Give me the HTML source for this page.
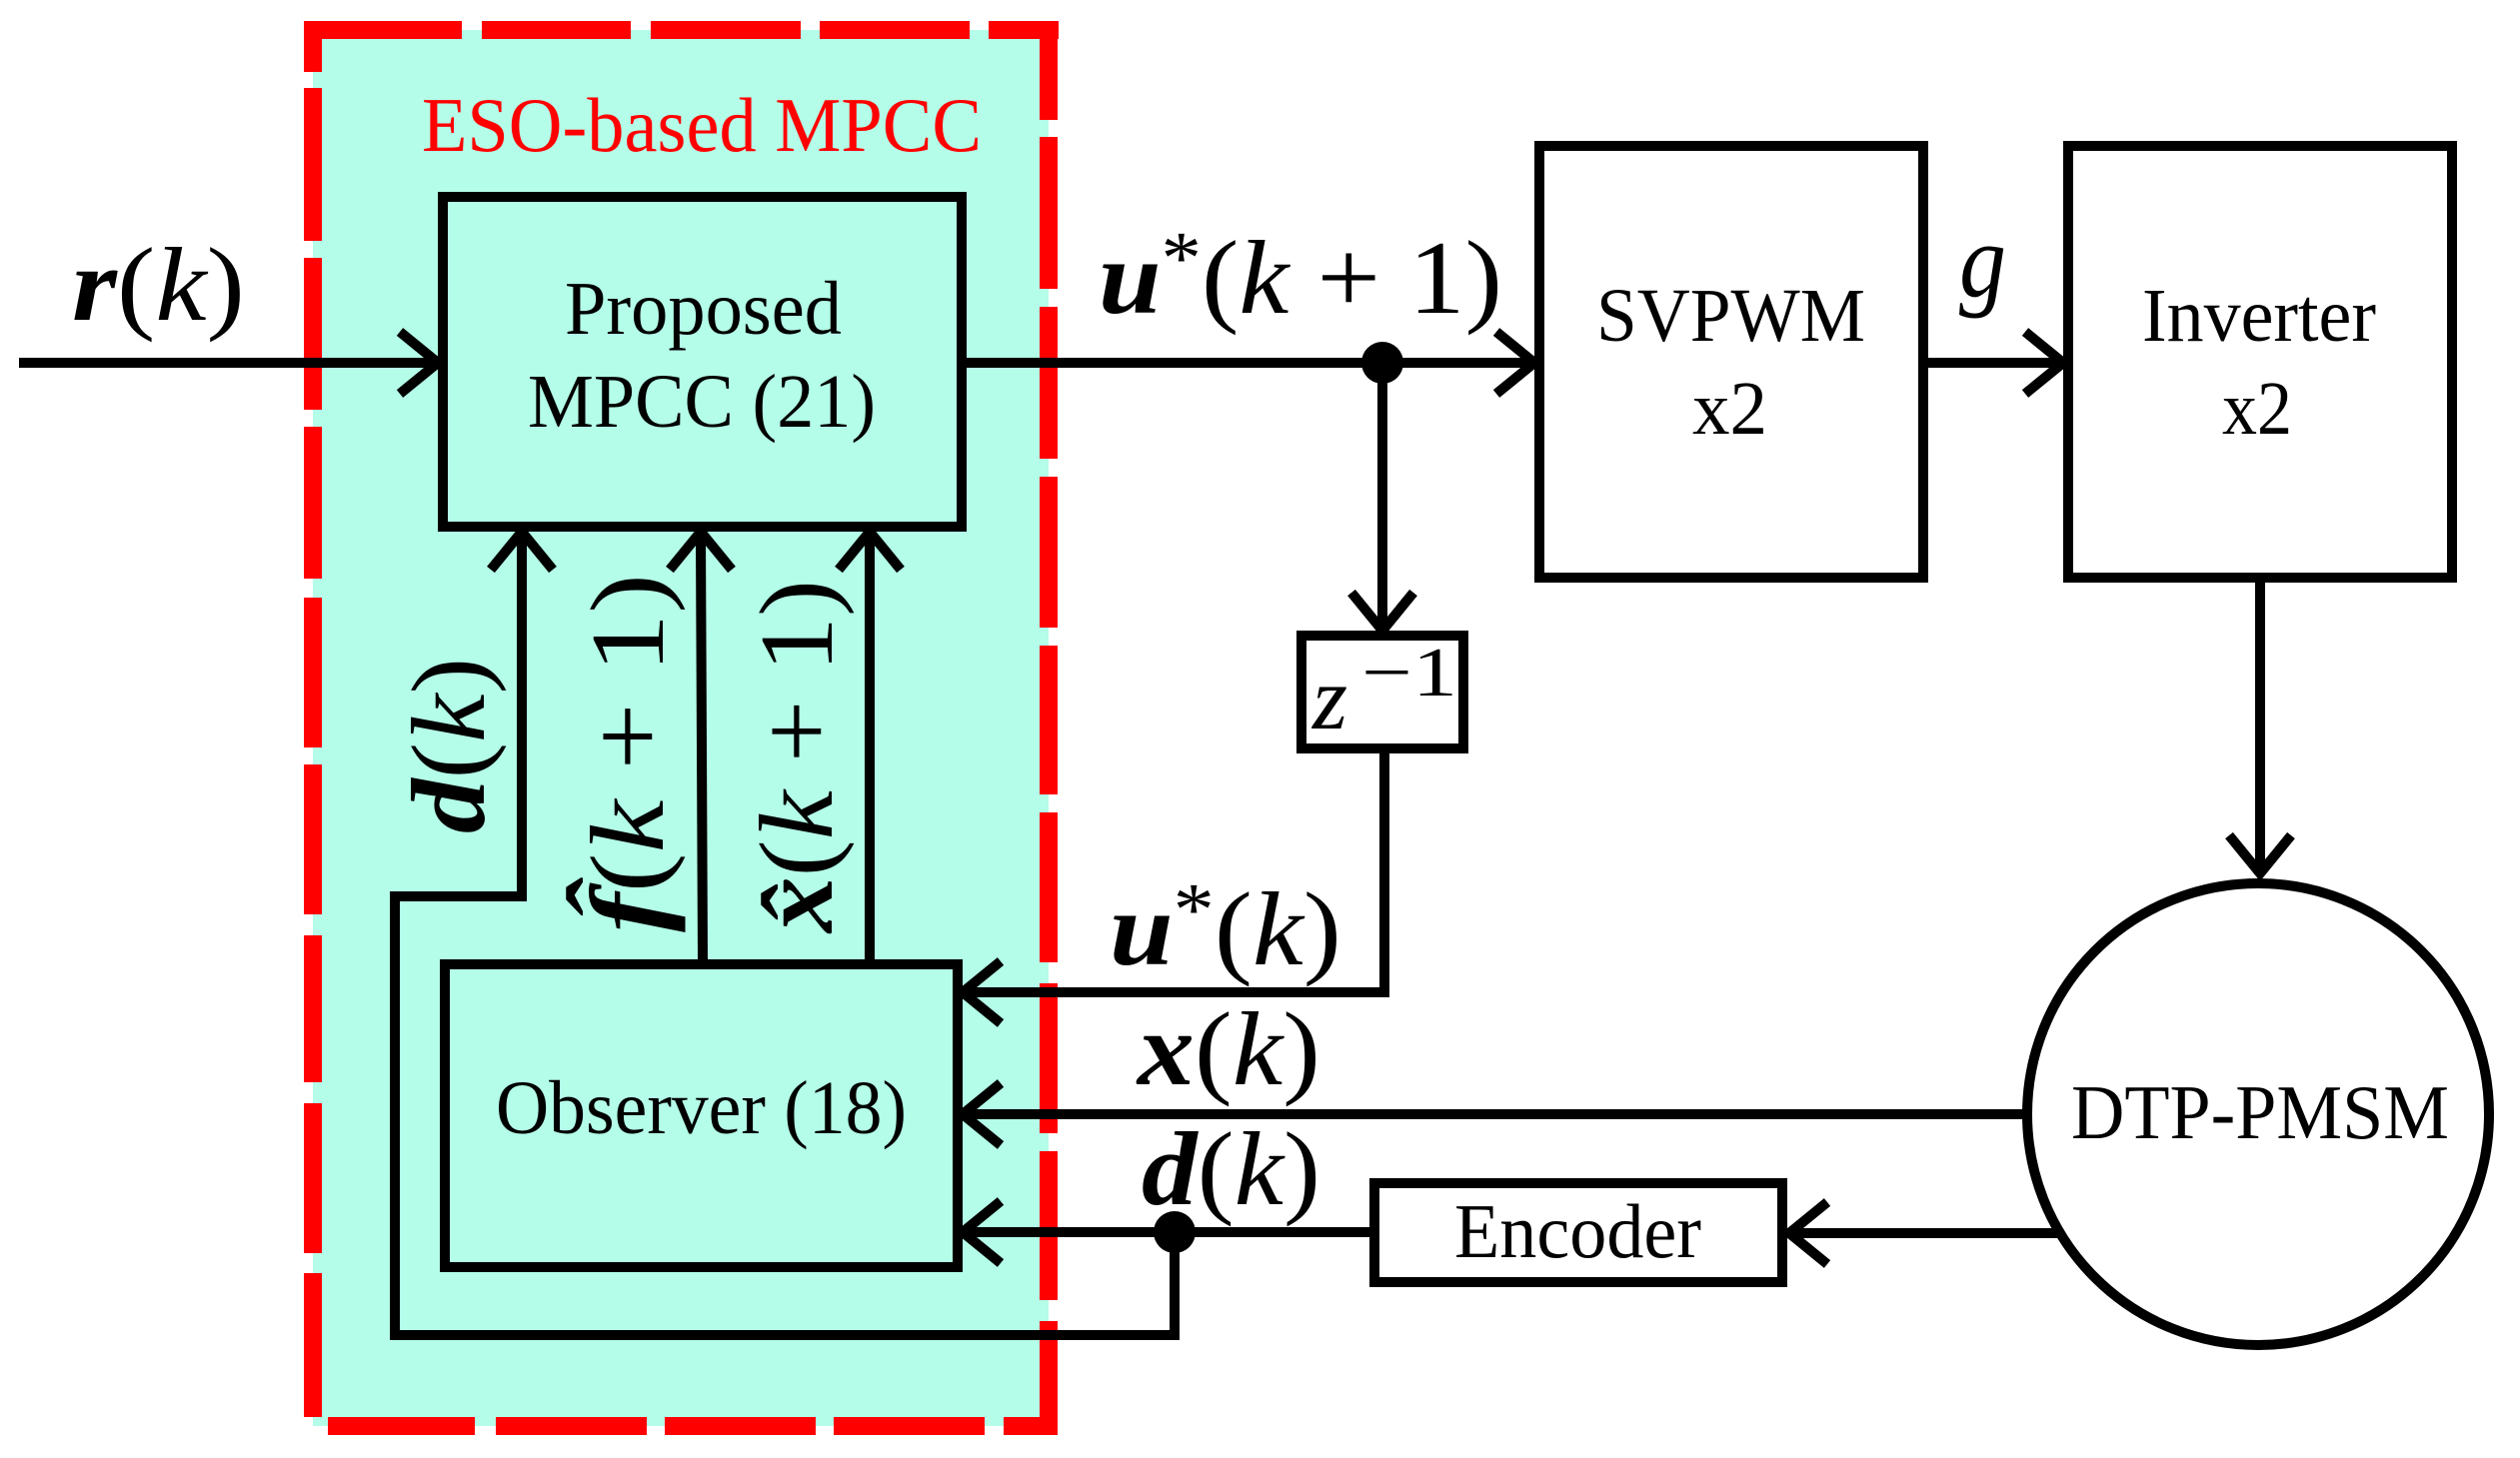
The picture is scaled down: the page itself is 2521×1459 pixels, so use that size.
<!DOCTYPE html>
<html><head><meta charset="utf-8"><style>
html,body{margin:0;padding:0;background:#fff;}
svg{display:block;}
text{font-family:"Liberation Serif",serif;fill:#000;}
</style></head><body>
<svg width="2521" height="1459" viewBox="0 0 2521 1459" xmlns="http://www.w3.org/2000/svg">
<rect x="0" y="0" width="2521" height="1459" fill="#fff"/>
<!-- ESO region fill -->
<rect x="313" y="30" width="736" height="1397" fill="#b4fde8"/>
<!-- red dashes -->
<g fill="#ff0000">
<rect x="304" y="21" width="158" height="18"/><rect x="482" y="21" width="149" height="18"/><rect x="651" y="21" width="150" height="18"/><rect x="820" y="21" width="150" height="18"/><rect x="989" y="21" width="70" height="18"/>
<rect x="304" y="21" width="18" height="51"/><rect x="304" y="88" width="18" height="153"/><rect x="304" y="258" width="18" height="152"/><rect x="304" y="427" width="18" height="152"/><rect x="304" y="598" width="18" height="150"/><rect x="304" y="765" width="18" height="150"/><rect x="304" y="936" width="18" height="147"/><rect x="304" y="1104" width="18" height="150"/><rect x="304" y="1274" width="18" height="144"/>
<rect x="1040" y="21" width="18" height="99"/><rect x="1040" y="137" width="18" height="152"/><rect x="1040" y="307" width="18" height="152"/><rect x="1040" y="477" width="18" height="151"/><rect x="1040" y="646" width="18" height="149"/><rect x="1040" y="813" width="18" height="150"/><rect x="1040" y="984" width="18" height="150"/><rect x="1040" y="1152" width="18" height="149"/><rect x="1040" y="1322" width="18" height="114"/>
<rect x="328" y="1418" width="147" height="18"/><rect x="496" y="1418" width="151" height="18"/><rect x="665" y="1418" width="151" height="18"/><rect x="834" y="1418" width="151" height="18"/><rect x="1004" y="1418" width="54" height="18"/>
</g>
<text x="422" y="151" font-size="77" fill="#ff0000" style="fill:#ff0000" textLength="560" lengthAdjust="spacingAndGlyphs">ESO-based MPCC</text>

<g fill="none" stroke="#000" stroke-width="10">
<!-- boxes -->
<rect x="443" y="197" width="519" height="330"/>
<rect x="445" y="965" width="513" height="303"/>
<rect x="1540" y="146" width="384" height="432"/>
<rect x="2069" y="146" width="384" height="432"/>
<rect x="1302" y="636" width="162" height="113"/>
<rect x="1375" y="1184" width="408" height="99"/>
<circle cx="2259" cy="1115" r="231"/>
<!-- lines -->
<path d="M19 363 H434"/>
<path d="M967 363 H1530"/>
<path d="M1383 363 V626"/>
<path d="M1385 754 V993 H968"/>
<path d="M1929 363 H2059"/>
<path d="M2261 583 V869"/>
<path d="M2029 1115 H968"/>
<path d="M2061 1234 H1795"/>
<path d="M1370 1233 H968"/>
<path d="M1175 1233 V1336 H395 V897 H522 V537"/>
<path d="M703 960 L701 537"/>
<path d="M870 960 V537"/>
<!-- arrowheads -->
<path d="M400 332 L438 363 L400 394"/>
<path d="M1497 332 L1535 363 L1497 394"/>
<path d="M2026 332 L2064 363 L2026 394"/>
<path d="M1352 593 L1383 631 L1414 593"/>
<path d="M2230 836 L2261 874 L2292 836"/>
<path d="M1001 962 L963 993 L1001 1024"/>
<path d="M1001 1084 L963 1115 L1001 1146"/>
<path d="M1001 1202 L963 1233 L1001 1264"/>
<path d="M1828 1203 L1790 1234 L1828 1265"/>
<path d="M491 570 L522 532 L553 570"/>
<path d="M670 570 L701 532 L732 570"/>
<path d="M839 570 L870 532 L901 570"/>
</g>
<circle cx="1383" cy="363" r="21" fill="#000"/>
<circle cx="1175" cy="1233" r="21" fill="#000"/>

<!-- block text -->
<text x="565" y="334" font-size="76" textLength="277" lengthAdjust="spacingAndGlyphs">Proposed</text>
<text x="528" y="427" font-size="76" textLength="348" lengthAdjust="spacingAndGlyphs">MPCC (21)</text>
<text x="496" y="1134" font-size="76" textLength="411" lengthAdjust="spacingAndGlyphs">Observer (18)</text>
<text x="1597" y="341" font-size="76" textLength="269" lengthAdjust="spacingAndGlyphs">SVPWM</text>
<text x="1693" y="434" font-size="76" textLength="75" lengthAdjust="spacingAndGlyphs">x2</text>
<text x="2143" y="341" font-size="76" textLength="234" lengthAdjust="spacingAndGlyphs">Inverter</text>
<text x="2223" y="434" font-size="76" textLength="70" lengthAdjust="spacingAndGlyphs">x2</text>
<text x="2072" y="1139" font-size="77" textLength="378" lengthAdjust="spacingAndGlyphs">DTP-PMSM</text>
<text x="1455" y="1258" font-size="77" textLength="247" lengthAdjust="spacingAndGlyphs">Encoder</text>

<!-- math labels -->
<text x="72" y="320" font-size="105" textLength="173" lengthAdjust="spacingAndGlyphs"><tspan font-weight="bold" font-style="italic">r</tspan>(<tspan font-style="italic">k</tspan>)</text>
<text x="1099" y="313" font-size="105" textLength="404" lengthAdjust="spacingAndGlyphs"><tspan font-weight="bold" font-style="italic">u</tspan><tspan font-size="75" dy="-30">*</tspan><tspan dy="30">(</tspan><tspan font-style="italic">k</tspan> + 1)</text>
<text x="1960" y="296" font-size="105" font-style="italic" textLength="47" lengthAdjust="spacingAndGlyphs">g</text>
<text x="1313" y="729" font-size="90" font-style="italic">z</text>
<text x="1362" y="696" font-size="70" textLength="96" lengthAdjust="spacingAndGlyphs">−1</text>
<text x="1110" y="965" font-size="105" textLength="232" lengthAdjust="spacingAndGlyphs"><tspan font-weight="bold" font-style="italic">u</tspan><tspan font-size="75" dy="-30">*</tspan><tspan dy="30">(</tspan><tspan font-style="italic">k</tspan>)</text>
<text x="1138" y="1085" font-size="105" textLength="183" lengthAdjust="spacingAndGlyphs"><tspan font-weight="bold" font-style="italic">x</tspan>(<tspan font-style="italic">k</tspan>)</text>
<text x="1142" y="1205" font-size="105" textLength="179" lengthAdjust="spacingAndGlyphs"><tspan font-weight="bold" font-style="italic">d</tspan>(<tspan font-style="italic">k</tspan>)</text>

<text transform="translate(484,834) rotate(-90)" font-size="105" textLength="176" lengthAdjust="spacingAndGlyphs"><tspan font-weight="bold" font-style="italic">d</tspan>(<tspan font-style="italic">k</tspan>)</text>
<text transform="translate(663,933) rotate(-90)" font-size="105" textLength="359" lengthAdjust="spacingAndGlyphs"><tspan font-weight="bold" font-style="italic">f̂</tspan>(<tspan font-style="italic">k</tspan> + 1)</text>
<text transform="translate(832,933) rotate(-90)" font-size="105" textLength="353" lengthAdjust="spacingAndGlyphs"><tspan font-weight="bold" font-style="italic">x̂</tspan>(<tspan font-style="italic">k</tspan> + 1)</text>
</svg>
</body></html>
